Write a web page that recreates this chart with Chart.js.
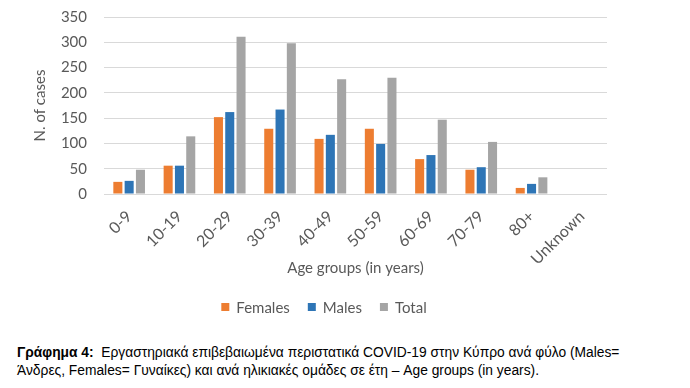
<!DOCTYPE html>
<html>
<head>
<meta charset="utf-8">
<script src="https://cdn.jsdelivr.net/npm/chart.js@4"></script>
<style>
  html,body{margin:0;padding:0;background:#fff;}
  body{width:690px;height:388px;overflow:hidden;position:relative;}
  #wrap{position:absolute;left:0;top:-9px;width:690px;height:339px;}
  .cap{position:absolute;left:17px;font-family:"Liberation Sans",Arial,sans-serif;font-size:13.8px;line-height:16px;color:#000;white-space:nowrap;}
  .cap b{font-weight:bold;}
</style>
</head>
<body>
<div id="wrap"><canvas id="c" width="690" height="339"></canvas></div>
<div class="cap" id="cap1" style="top:345px;"><b>Γράφημα 4:</b>&nbsp; Εργαστηριακά επιβεβαιωμένα περιστατικά COVID-19 στην Κύπρο ανά φύλο (Males=</div>
<div class="cap" id="cap2" style="top:363px;">Άνδρες, Females= Γυναίκες) και ανά ηλικιακές ομάδες σε έτη – Age groups (in years).</div>
<script>
const categories = ['0-9','10-19','20-29','30-39','40-49','50-59','60-69','70-79','80+','Unknown'];
const females = [24, 56, 152, 129, 109, 129, 69, 48, 12, null];
const males   = [26, 56, 162, 167, 117, 99, 77, 53, 20, null];
const totals  = [48, 114, 311, 298, 227, 230, 147, 103, 33, null];
const seriesNames = ['Females', 'Males', 'Total'];
const yTicks = [0, 50, 100, 150, 200, 250, 300, 350];

const FONT = 'Lato';
const TXT = '#595959';

const legendPlugin = {
  id: 'customLegend',
  afterDraw(chart) {
    const ctx = chart.ctx;
    ctx.save();
    ctx.font = '15px ' + FONT;
    ctx.textBaseline = 'middle';
    ctx.textAlign = 'left';
    const items = chart.data.datasets.map(d => ({label: d.label, color: d.backgroundColor, w: ctx.measureText(d.label).width}));
    const box = 8, gapBox = 7, gapItem = 18;
    let total = 0;
    items.forEach((it, i) => { total += box + gapBox + it.w + (i < items.length - 1 ? gapItem : 0); });
    let x = 324 - total / 2;
    const y = 316;
    items.forEach(it => {
      ctx.fillStyle = it.color;
      ctx.fillRect(x, y - 4, box, box);
      ctx.fillStyle = TXT;
      ctx.fillText(it.label, x + box + gapBox, y + 1);
      x += box + gapBox + it.w + gapItem;
    });
    ctx.restore();
  }
};

new Chart(document.getElementById('c'), {
  type: 'bar',
  data: {
    labels: categories,
    datasets: [
      {label: seriesNames[0], data: females, backgroundColor: '#ED7D31'},
      {label: seriesNames[1], data: males, backgroundColor: '#2E75B6'},
      {label: seriesNames[2], data: totals, backgroundColor: '#A5A5A5'}
    ]
  },
  options: {
    responsive: false,
    animation: false,
    devicePixelRatio: 1,
    layout: {padding: {left: 0, right: 83, top: 8, bottom: 0}},
    datasets: {bar: {categoryPercentage: 0.674, barPercentage: 0.8, borderWidth: 0}},
    plugins: {legend: {display: false}, tooltip: {enabled: false}},
    scales: {
      x: {
        grid: {display: false, drawTicks: false},
        border: {display: false},
        ticks: {color: TXT, font: {family: FONT, size: 16}, minRotation: 45, maxRotation: 45, padding: 13, autoSkip: false},
        title: {display: true, text: 'Age groups (in years)', color: TXT, font: {family: FONT, size: 15}, padding: {top: 0, bottom: 53}},
        afterFit(scale) { scale.height = 136; }
      },
      y: {
        min: 0, max: 350,
        afterBuildTicks(scale) { scale.ticks = yTicks.map(v => ({value: v})); },
        grid: {color: '#D9D9D9', lineWidth: 1, drawTicks: false},
        border: {display: false},
        ticks: {color: TXT, font: {family: FONT, size: 15}, padding: 17},
        title: {display: true, text: 'N. of cases', color: TXT, font: {family: FONT, size: 15}, padding: {top: 31, bottom: 0}},
        afterFit(scale) { scale.width = 104; }
      }
    }
  },
  plugins: [legendPlugin]
});
</script>
</body>
</html>
